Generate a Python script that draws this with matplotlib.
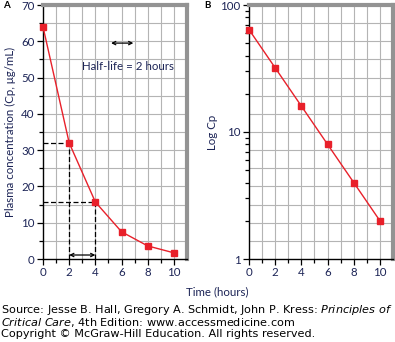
import numpy as np
import matplotlib.pyplot as plt
from matplotlib.ticker import MultipleLocator, FixedLocator, NullFormatter

# data
hours = [0, 2, 4, 6, 8, 10]
cp_linear = [64, 32, 15.7, 7.5, 3.6, 1.7]
cp_log = [64, 32, 16, 8, 4, 2]

RED = "#e8202a"
NAVY = "#1c2456"
GRID = "#b4b4b4"
FRAME = "#939393"

plt.rcParams["font.family"] = ["Lato", "DejaVu Sans"]
plt.rcParams["mathtext.fontset"] = "dejavusans"

fig = plt.figure(figsize=(3.95, 3.42), dpi=100)
axA = fig.add_axes([43 / 395, 1 - 259 / 342, 144 / 395, 254 / 342])
axB = fig.add_axes([249 / 395, 1 - 259 / 342, 144 / 395, 254 / 342])


def style(ax):
    for s in ("top", "right"):
        ax.spines[s].set_color(FRAME)
        ax.spines[s].set_linewidth(3)
    for s in ("left", "bottom"):
        ax.spines[s].set_color("black")
        ax.spines[s].set_linewidth(1)
    ax.tick_params(which="both", direction="out", colors="black",
                   labelcolor=NAVY, labelsize=8.3, width=0.9, top=False, right=False)
    ax.tick_params(which="major", length=4, pad=2)
    ax.tick_params(which="minor", length=3)
    ax.set_xlim(0, 11)
    ax.xaxis.set_major_locator(FixedLocator(range(0, 11, 2)))
    ax.xaxis.set_minor_locator(FixedLocator(range(1, 11, 2)))
    for x in range(1, 11):
        ax.axvline(x, color=GRID, lw=0.8, zorder=0)


# ── Panel A: linear ───────────────────────────────────────────────────
style(axA)
axA.set_ylim(0, 70)
axA.yaxis.set_major_locator(MultipleLocator(10))
axA.yaxis.set_minor_locator(MultipleLocator(5))
for y in np.arange(5, 70, 5):
    axA.axhline(y, color=GRID, lw=0.8, zorder=0)

axA.plot(hours, cp_linear, "-", color=RED, lw=1, zorder=3)
axA.plot(hours, cp_linear, "s", color=RED, ms=5, zorder=4, clip_on=False)

# half-life construction lines
for t, c in [(hours[1], cp_linear[1]), (hours[2], cp_linear[2])]:
    axA.plot([0, t], [c, c], "--", color="black", lw=0.9, dashes=(4, 2), zorder=2)
    axA.plot([t, t], [0, c], "--", color="black", lw=0.9, dashes=(4, 2), zorder=2)

axA.annotate("", xy=(2, 1.1), xytext=(4, 1.1),
             arrowprops=dict(arrowstyle="<->", color="black", lw=0.9,
                             shrinkA=0, shrinkB=0, mutation_scale=6))
axA.annotate("", xy=(5.2, 59.5), xytext=(6.9, 59.5),
             arrowprops=dict(arrowstyle="<->", color="black", lw=0.9,
                             shrinkA=0, shrinkB=0, mutation_scale=6))
axA.text(6.5, 53, "Half-life = 2 hours", ha="center", va="center",
         fontsize=8.3, color=NAVY)
axA.set_ylabel("Plasma concentration (Cp, μg/mL)", fontsize=8.3, color=NAVY, labelpad=4)

# ── Panel B: semilog ──────────────────────────────────────────────────
style(axB)
axB.set_yscale("log")
axB.set_ylim(1, 100)
axB.yaxis.set_minor_formatter(NullFormatter())
axB.set_yticks([1, 10, 100], ["1", "10", "100"])
# background grid in the original is evenly spaced, not logarithmic
for i in range(1, 14):
    axB.axhline(10 ** (2 * i / 14), color=GRID, lw=0.8, zorder=0)

axB.plot(hours, cp_log, "-", color=RED, lw=1, zorder=3)
axB.plot(hours, cp_log, "s", color=RED, ms=5, zorder=4, clip_on=False)
axB.set_ylabel("Log Cp", fontsize=8.3, color=NAVY, labelpad=2)

fig.text(3 / 395, 1 - 5 / 342, "A", fontsize=7, fontweight="bold", va="center")
fig.text(204 / 395, 1 - 5 / 342, "B", fontsize=7, fontweight="bold", va="center")
fig.text(217 / 395, 1 - 292 / 342, "Time (hours)", fontsize=8.3, color=NAVY,
         ha="center", va="center")

source = ("Source: Jesse B. Hall, Gregory A. Schmidt, John P. Kress: $\\it{Principles\\ of}$\n"
          "$\\it{Critical\\ Care}$, 4th Edition: www.accessmedicine.com\n"
          "Copyright © McGraw-Hill Education. All rights reserved.")
fig.text(1 / 395, 1 - 321 / 342, source, fontsize=8.1, family="DejaVu Sans",
         va="center", ha="left", linespacing=0.93)

fig.savefig("out.png", dpi=100)
